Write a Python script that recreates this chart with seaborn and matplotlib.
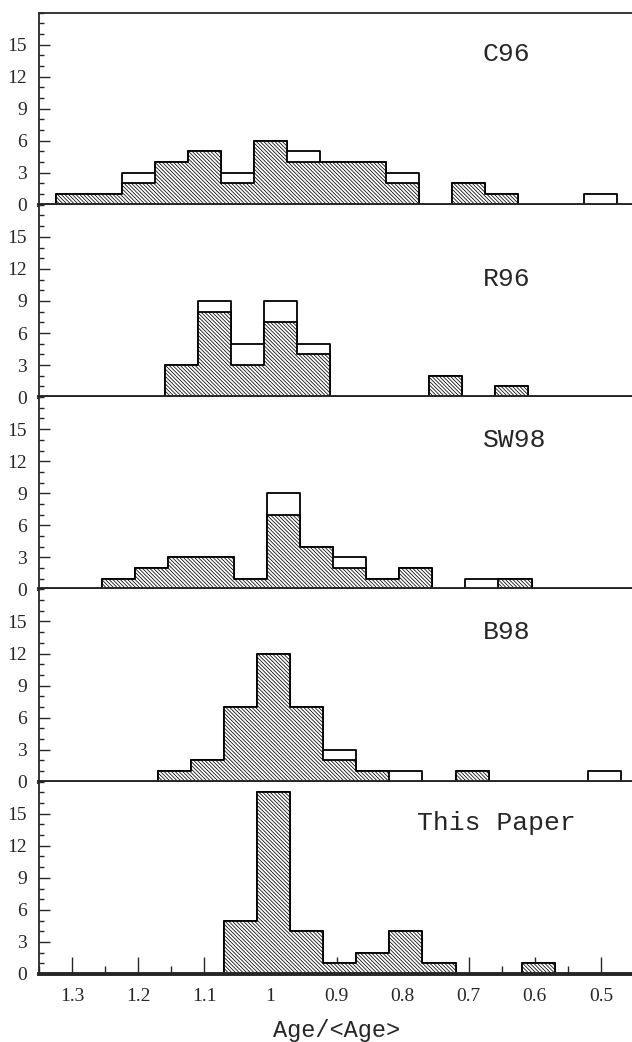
import numpy as np
import pandas as pd
import matplotlib
matplotlib.use("Agg")
import matplotlib.pyplot as plt
from matplotlib.ticker import MultipleLocator, FuncFormatter
import seaborn as sns

# Age/<Age> histograms: bin centres, total counts (open outline) and
# counts of the hatched subsample, one set per study.
bin_width = 0.05

c96_age = [1.30, 1.25, 1.20, 1.15, 1.10, 1.05, 1.00, 0.95, 0.90, 0.85, 0.80, 0.70, 0.65, 0.50]
c96_all = [1, 1, 3, 4, 5, 3, 6, 5, 4, 4, 3, 2, 1, 1]
c96_sub = [1, 1, 2, 4, 5, 2, 6, 4, 4, 4, 2, 2, 1, 0]

r96_age = [1.135, 1.085, 1.035, 0.985, 0.935, 0.735, 0.635]
r96_all = [3, 9, 5, 9, 5, 2, 1]
r96_sub = [3, 8, 3, 7, 4, 2, 1]

sw98_age = [1.23, 1.18, 1.13, 1.08, 1.03, 0.98, 0.93, 0.88, 0.83, 0.78, 0.68, 0.63]
sw98_all = [1, 2, 3, 3, 1, 9, 4, 3, 1, 2, 1, 1]
sw98_sub = [1, 2, 3, 3, 1, 7, 4, 2, 1, 2, 0, 1]

b98_age = [1.145, 1.095, 1.045, 0.995, 0.945, 0.895, 0.845, 0.795, 0.695, 0.495]
b98_all = [1, 2, 7, 12, 7, 3, 1, 1, 1, 1]
b98_sub = [1, 2, 7, 12, 7, 2, 1, 0, 1, 0]

tp_age = [1.045, 0.995, 0.945, 0.895, 0.845, 0.795, 0.745, 0.595]
tp_all = [5, 17, 4, 1, 2, 4, 1, 1]
tp_sub = [5, 17, 4, 1, 2, 4, 1, 1]

panel_names = ["C96", "R96", "SW98", "B98", "This Paper"]
panels = [
    (c96_age, c96_all, c96_sub),
    (r96_age, r96_all, r96_sub),
    (sw98_age, sw98_all, sw98_sub),
    (b98_age, b98_all, b98_sub),
    (tp_age, tp_all, tp_sub),
]
name_xy = [(0.679, 14.1), (0.679, 11.1), (0.679, 14.0), (0.679, 14.05), (0.778, 14.1)]

y_ticks = [0, 3, 6, 9, 12, 15]


def bin_edges(centres, width):
    c = np.sort(np.asarray(centres, dtype=float))
    n = int(round((c[-1] - c[0]) / width)) + 1
    return (c[0] - width / 2 + width * np.arange(n + 1)).tolist()


sns.set_style("ticks")
plt.rcParams["font.family"] = ["Liberation Serif", "DejaVu Serif"]
plt.rcParams["hatch.linewidth"] = 0.55

W, H = 632, 1042
fig = plt.figure(figsize=(W / 100, H / 100), dpi=100)
axes = fig.subplots(
    5, 1, sharex=True,
    gridspec_kw=dict(hspace=0, left=39 / W, right=634 / W,
                     bottom=68 / H, top=1 - 12.5 / H),
)

for i, (ax, (age, n_all, n_sub), name) in enumerate(zip(axes, panels, panel_names)):
    edges = bin_edges(age, bin_width)
    df = pd.DataFrame({"age": age, "n_all": n_all, "n_sub": n_sub})
    sns.histplot(data=df, x="age", weights="n_all", bins=edges, element="step",
                 fill=True, facecolor="white", edgecolor="black",
                 linewidth=1.3, alpha=1, ax=ax)
    sns.histplot(data=df, x="age", weights="n_sub", bins=edges, element="step",
                 fill=True, facecolor="white", edgecolor="black",
                 linewidth=1.3, hatch="\\" * 9, alpha=1, ax=ax)

    ax.set_xlim(1.35, 0.45)
    ax.set_ylim(0, 18)
    ax.set_ylabel("")
    ax.set_xlabel("")

    ax.set_yticks(y_ticks)
    ax.yaxis.set_minor_locator(MultipleLocator(1))
    ax.tick_params(axis="y", which="major", direction="in", length=8, width=1,
                   pad=8.5, labelsize=14, left=True, right=False)
    ax.tick_params(axis="y", which="minor", direction="in", length=3.6,
                   width=1, left=True, right=False)

    ax.spines["left"].set_linewidth(1.3)
    ax.spines["bottom"].set_linewidth(2.8)
    ax.spines["right"].set_visible(False)
    if i == 0:
        ax.spines["top"].set_linewidth(1.3)
    else:
        ax.spines["top"].set_visible(False)

    ax.text(name_xy[i][0], name_xy[i][1], name, family="Liberation Mono",
            fontsize=19, ha="left", va="center")

    if i < 4:
        ax.tick_params(axis="x", which="both", length=0, labelbottom=False)

bottom_ax = axes[-1]
bottom_ax.xaxis.set_major_locator(MultipleLocator(0.1))
bottom_ax.xaxis.set_minor_locator(MultipleLocator(0.05))
bottom_ax.xaxis.set_major_formatter(FuncFormatter(lambda v, p: "%g" % round(v, 2)))
bottom_ax.tick_params(axis="x", which="major", direction="in", length=12,
                      width=1, pad=10, labelsize=14, top=False)
bottom_ax.tick_params(axis="x", which="minor", direction="in", length=6,
                      width=1, top=False)
bottom_ax.set_xlabel("Age/<Age>", family="Liberation Mono", fontsize=17,
                     labelpad=10)

fig.savefig("out.png", dpi=100)
